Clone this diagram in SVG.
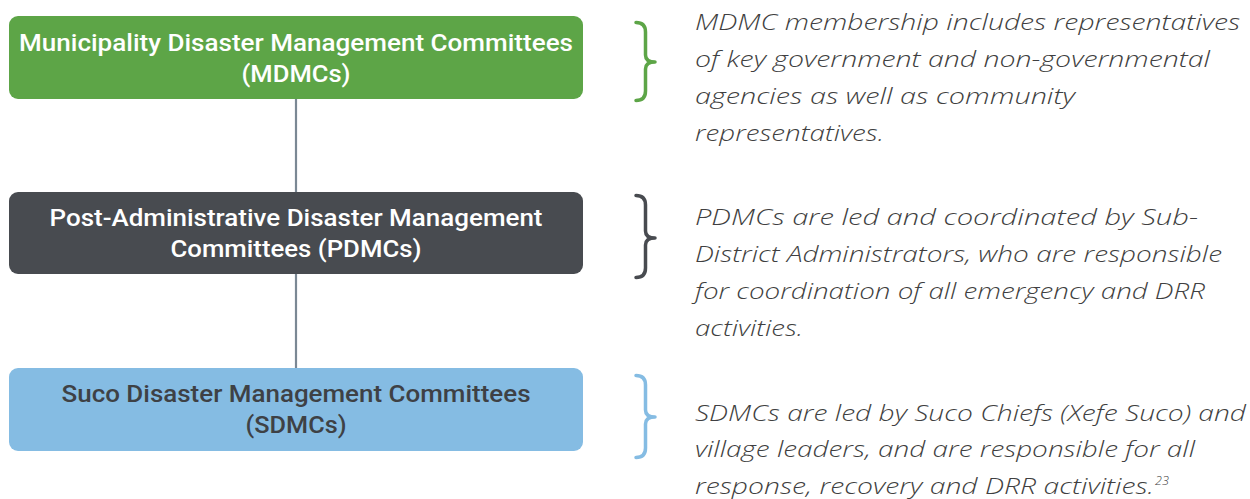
<svg xmlns="http://www.w3.org/2000/svg" width="1250" height="499" viewBox="0 0 1250 499">
<style>
.box-title{font-family:Roboto,"Liberation Sans",sans-serif;font-weight:500;font-size:24.5px;text-anchor:middle}
.desc{font-family:"Open Sans","DejaVu Sans",sans-serif;font-style:italic;font-weight:300;font-size:21.5px;fill:#3f3f41}
.brace{fill:none;stroke-width:3.5;stroke-linecap:round;stroke-linejoin:round}
.conn{stroke:#7b8894;stroke-width:2.2;fill:none}
</style>
<rect width="1250" height="499" fill="#ffffff"/>
<g id="connectors">
<line class="conn" x1="296" y1="99" x2="296" y2="192"/>
<line class="conn" x1="296" y1="274" x2="296" y2="368"/>
</g>
<g id="node-mdmc">
<rect x="9" y="16" width="574" height="83" rx="9" fill="#5da547"/>
<text class="box-title" fill="#ffffff" x="296" y="51" textLength="554" lengthAdjust="spacingAndGlyphs">Municipality Disaster Management Committees</text>
<text class="box-title" fill="#ffffff" x="296" y="82" textLength="109" lengthAdjust="spacingAndGlyphs">(MDMCs)</text>
</g>
<g id="node-pdmc">
<rect x="9" y="192" width="574" height="82" rx="9" fill="#484b50"/>
<text class="box-title" fill="#ffffff" x="296" y="226" textLength="493" lengthAdjust="spacingAndGlyphs">Post-Administrative Disaster Management</text>
<text class="box-title" fill="#ffffff" x="296" y="256.5" textLength="251" lengthAdjust="spacingAndGlyphs">Committees (PDMCs)</text>
</g>
<g id="node-sdmc">
<rect x="9" y="368" width="574" height="83" rx="9" fill="#85bce3"/>
<text class="box-title" fill="#3e4145" x="296" y="402" textLength="469" lengthAdjust="spacingAndGlyphs">Suco Disaster Management Committees</text>
<text class="box-title" fill="#3e4145" x="296" y="432.5" textLength="101" lengthAdjust="spacingAndGlyphs">(SDMCs)</text>
</g>
<g id="note-mdmc">
<path class="brace" stroke="#5da547" d="M636,22.5 Q645.5,22.5 645.5,32 L645.5,55 Q645.5,62 655,62 Q645.5,62 645.5,69 L645.5,91 Q645.5,100.5 636,100.5"/>
<text class="desc" x="695" y="30" textLength="545" lengthAdjust="spacingAndGlyphs">MDMC membership includes representatives</text>
<text class="desc" x="695" y="67" textLength="515" lengthAdjust="spacingAndGlyphs">of key government and non-governmental</text>
<text class="desc" x="695" y="104" textLength="380" lengthAdjust="spacingAndGlyphs">agencies as well as community</text>
<text class="desc" x="695" y="141" textLength="189" lengthAdjust="spacingAndGlyphs">representatives.</text>
</g>
<g id="note-pdmc">
<path class="brace" stroke="#484b50" d="M636,195.5 Q645.5,195.5 645.5,205 L645.5,231 Q645.5,238 655,238 Q645.5,238 645.5,245 L645.5,268 Q645.5,277.5 636,277.5"/>
<text class="desc" x="695" y="225" textLength="503" lengthAdjust="spacingAndGlyphs">PDMCs are led and coordinated by Sub-</text>
<text class="desc" x="695" y="262" textLength="527" lengthAdjust="spacingAndGlyphs">District Administrators, who are responsible</text>
<text class="desc" x="695" y="299" textLength="510" lengthAdjust="spacingAndGlyphs">for coordination of all emergency and DRR</text>
<text class="desc" x="695" y="336" textLength="108" lengthAdjust="spacingAndGlyphs">activities.</text>
</g>
<g id="note-sdmc">
<path class="brace" stroke="#85bce3" d="M636,375.5 Q645.5,375.5 645.5,385 L645.5,410 Q645.5,417 655,417 Q645.5,417 645.5,424 L645.5,448 Q645.5,457.5 636,457.5"/>
<text class="desc" x="695" y="420.5" textLength="551" lengthAdjust="spacingAndGlyphs">SDMCs are led by Suco Chiefs (Xefe Suco) and</text>
<text class="desc" x="695" y="457" textLength="500" lengthAdjust="spacingAndGlyphs">village leaders, and are responsible for all</text>
<text class="desc" x="695" y="493.5"><tspan textLength="459" lengthAdjust="spacingAndGlyphs">response, recovery and DRR activities.</tspan><tspan font-size="12.5" dx="1" dy="-9">23</tspan></text>
</g>
</svg>
